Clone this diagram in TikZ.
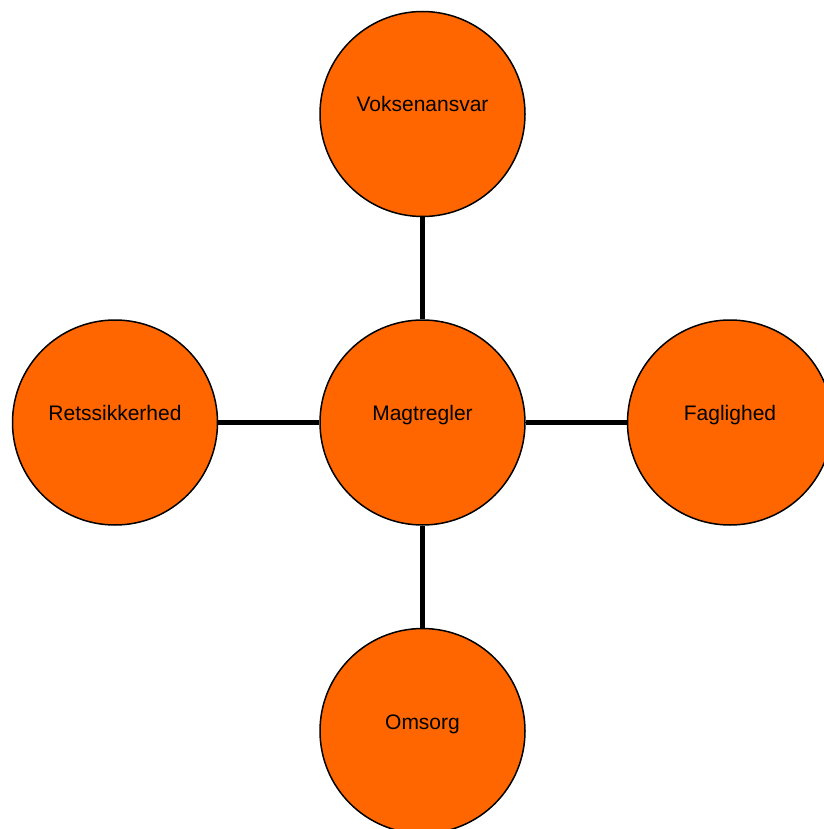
\documentclass[tikz,border=0pt]{standalone}
\usepackage{fontspec}
\setmainfont{Liberation Sans}
\definecolor{orng}{HTML}{FF6600}
\begin{document}
\begin{tikzpicture}[x=1pt,y=-1pt,
  bubble/.style={circle,draw=black,line width=1.5pt,fill=orng,minimum size=205pt,inner sep=0pt},
  lbl/.style={anchor=base,inner sep=0pt,font=\fontsize{21}{25}\selectfont},
  link/.style={line width=5.5pt,black}]
\useasboundingbox (0,0) rectangle (823,829);
\node[bubble] (c) at (422.5,422.5) {};
\node[bubble] (t) at (422.5,114) {};
\node[bubble] (b) at (422.5,731) {};
\node[bubble] (l) at (115,422.5) {};
\node[bubble] (r) at (730,422.5) {};
\draw[link] (c) -- (t);
\draw[link] (c) -- (b);
\draw[link] (c) -- (l);
\draw[link] (c) -- (r);
\node[lbl] (ct) at (422.5,420) {Magtregler};
\node[lbl] (tt) at (422.5,112) {Voksenansvar};
\node[lbl] (bt) at (422.5,729) {Omsorg};
\node[lbl] (lt) at (115,420) {Retssikkerhed};
\node[lbl] (rt) at (730,420) {Faglighed};
\end{tikzpicture}
\end{document}
